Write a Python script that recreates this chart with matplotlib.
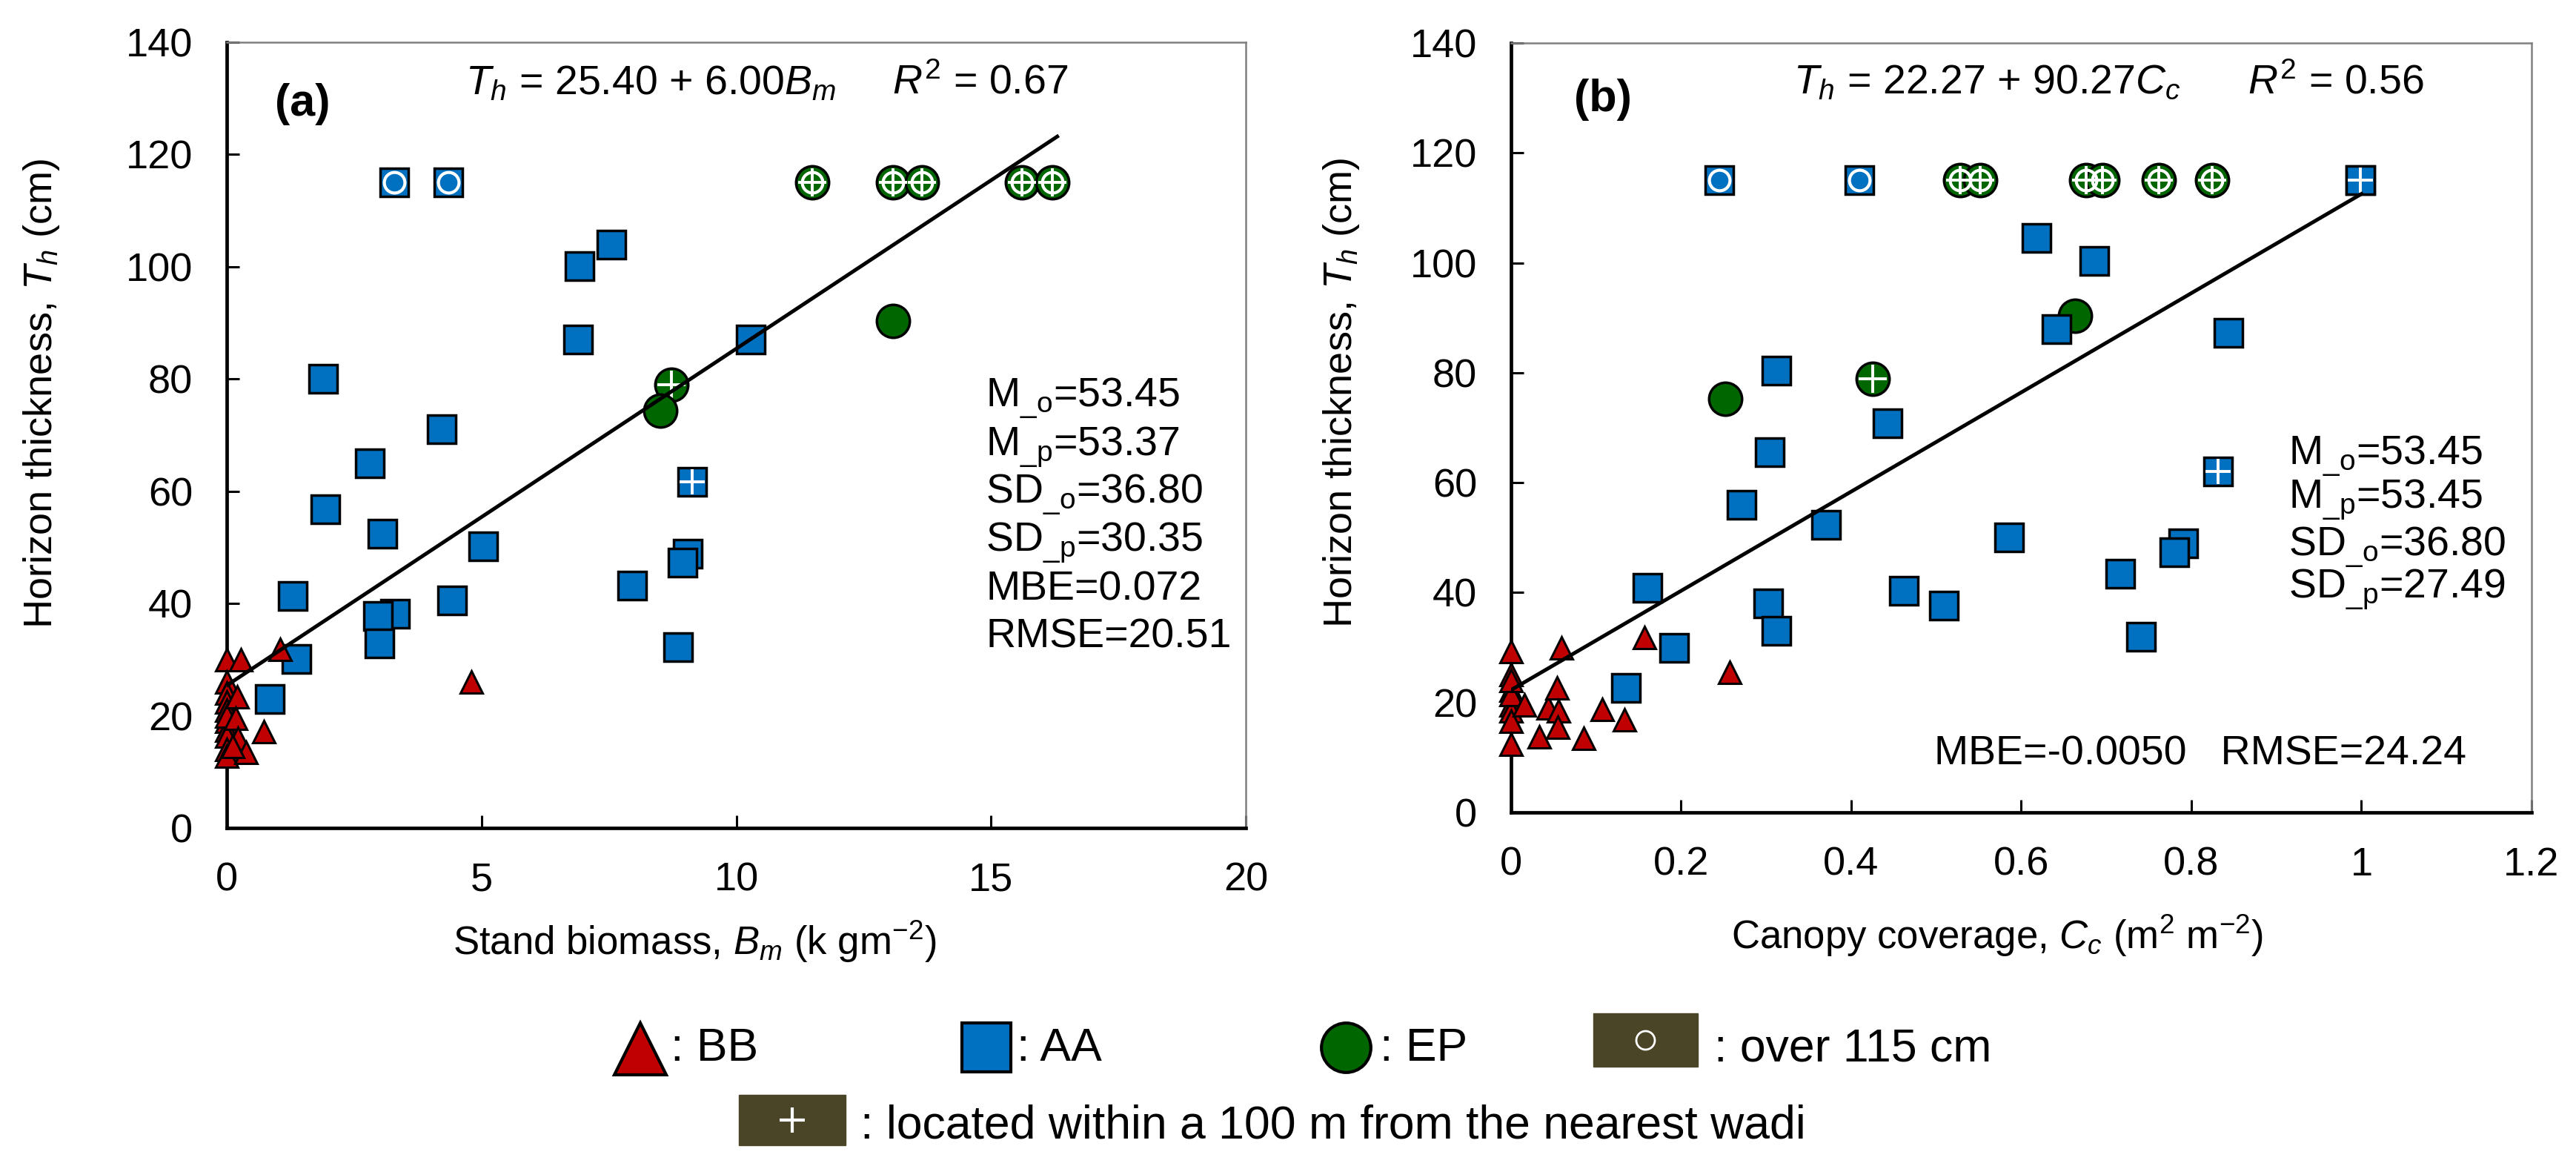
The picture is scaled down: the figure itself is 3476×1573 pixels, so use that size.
import numpy as np
import matplotlib
matplotlib.use('Agg')
import matplotlib.pyplot as plt
from matplotlib.patches import Rectangle

plt.rcParams['font.family'] = ['Liberation Sans', 'DejaVu Sans']
plt.rcParams['mathtext.fontset'] = 'custom'
plt.rcParams['mathtext.rm'] = 'Liberation Sans'
plt.rcParams['mathtext.it'] = 'Liberation Sans:italic'
plt.rcParams['mathtext.bf'] = 'Liberation Sans:bold'

RED = '#C00000'
BLUE = '#0070C0'
GREEN = '#006600'
BOX = '#4B4528'

# ---------------- panel (a): stand biomass B_m vs horizon thickness T_h
bb_a_x = [0, 0, 0, 0, 0, 0, 0, 0, 0, 0, 0, 0.27, 0.2, 0.17, 0.22, 0.38, 0.12, 0.72, 1.04, 4.8]
bb_a_y = [30, 26, 24, 22.5, 21, 19, 17.5, 16.4, 14, 12.8, 20, 30, 23.4, 19.5, 16, 13.5, 14.5, 17.2, 31.8, 26]

aa_a_x = [6.93, 7.55, 6.89, 10.28, 1.89, 4.22, 2.81, 1.93, 3.06, 5.03, 1.3, 4.42,
          3.3, 2.97, 3.0, 1.37, 0.85, 7.96, 9.05, 8.94, 8.86]
aa_a_y = [100.1, 104, 87, 87, 80, 71, 65, 56.8, 52.4, 50.2, 41.4, 40.5,
          38.2, 37.8, 32.9, 30.1, 23, 43.2, 48.9, 47.3, 32.2]
aa_a_over_x = [3.29, 4.35]
aa_a_over_y = [115, 115]
aa_a_wadi_x = [9.14]
aa_a_wadi_y = [61.7]

ep_a_x = [13.08, 8.51]
ep_a_y = [90.3, 74.4]
ep_a_wadi_x = [8.72]
ep_a_wadi_y = [79]
ep_a_over_x = [11.49, 13.08, 13.64, 15.6, 16.2]
ep_a_over_y = [115, 115, 115, 115, 115]

fit_a = (25.40, 6.00)
fit_a_range = [0, 16.3]

# ---------------- panel (b): canopy coverage C_c vs horizon thickness T_h
bb_b_x = [0, 0, 0, 0, 0, 0, 0, 0, 0, 0.016, 0.044, 0.054, 0.056, 0.055, 0.033,
          0.059, 0.107, 0.133, 0.085, 0.157, 0.257]
bb_b_y = [29.3, 25.1, 22.3, 19.5, 18.5, 16.6, 12.4, 21.5, 24, 19.5, 19, 22.7, 18.5, 15.5, 13.7,
          30, 18.7, 16.8, 13.5, 31.8, 25.5]

aa_b_x = [0.618, 0.686, 0.641, 0.844, 0.312, 0.443, 0.304, 0.271, 0.37, 0.16, 0.302,
          0.312, 0.192, 0.135, 0.462, 0.509, 0.586, 0.716, 0.79, 0.78, 0.741]
aa_b_y = [104.5, 100.4, 87.9, 87.3, 80.4, 70.8, 65.5, 56, 52.3, 40.9, 38.1,
          33.1, 29.9, 22.7, 40.3, 37.6, 50, 43.4, 48.9, 47.3, 32]
aa_b_over_x = [0.245, 0.41, 0.999]
aa_b_over_y = [115, 115, 115]
aa_b_wadi_x = [0.831, 0.999]
aa_b_wadi_y = [62, 115]

ep_b_x = [0.252, 0.663]
ep_b_y = [75.3, 90.3]
ep_b_wadi_x = [0.425]
ep_b_wadi_y = [78.9]
ep_b_over_x = [0.528, 0.552, 0.676, 0.695, 0.762, 0.824]
ep_b_over_y = [115, 115, 115, 115, 115, 115]

fit_b = (22.27, 90.27)
fit_b_range = [0, 1.0]

stats_a = [r'M$_{\mathrm{\_o}}$=53.45', r'M$_{\mathrm{\_p}}$=53.37', r'SD$_{\mathrm{\_o}}$=36.80',
           r'SD$_{\mathrm{\_p}}$=30.35', 'MBE=0.072', 'RMSE=20.51']
stats_b = [r'M$_{\mathrm{\_o}}$=53.45', r'M$_{\mathrm{\_p}}$=53.45',
           r'SD$_{\mathrm{\_o}}$=36.80', r'SD$_{\mathrm{\_p}}$=27.49']
stats_b_last = 'MBE=-0.0050   RMSE=24.24'

W, H = 3476, 1573
fig = plt.figure(figsize=(W / 100, H / 100), dpi=100)

ax_a = fig.add_axes([306 / W, 1 - 1117 / H, 1375 / W, 1060 / H])
ax_b = fig.add_axes([2039 / W, 1 - 1096 / H, 1377 / W, 1038 / H])


def group(ax, x, y, kind, over=False, wadi=False):
    if kind == 'BB':
        kw = dict(marker='^', ms=22, mfc=RED, mec='black', mew=2.2)
    elif kind == 'AA':
        kw = dict(marker='s', ms=27, mfc=BLUE, mec='black', mew=2.5)
    else:
        kw = dict(marker='o', ms=32, mfc=GREEN, mec='black', mew=2.5)
    ax.plot(x, y, ls='none', clip_on=False, zorder=3, **kw)
    if over:
        ax.plot(x, y, ls='none', marker='o', ms=20, mfc='none', mec='white',
                mew=3, clip_on=False, zorder=3)
    if wadi:
        ax.plot(x, y, ls='none', marker='+', ms=24 if kind == 'AA' else 27,
                mec='white', mew=2.8, clip_on=False, zorder=3)


def style(ax, xticks, xlabels):
    ax.set_ylim(0, 140)
    ax.set_yticks(np.arange(0, 141, 20))
    ax.set_xticks(xticks)
    ax.set_xticklabels(xlabels)
    ax.set_xlim(xticks[0], xticks[-1])
    ax.tick_params(direction='in', length=12, width=2.2, labelsize=39, pad=33)
    for s in ['left', 'bottom']:
        ax.spines[s].set_linewidth(3.4)
        ax.spines[s].set_color('black')
    for s in ['top', 'right']:
        ax.spines[s].set_linewidth(1.8)
        ax.spines[s].set_color('#808080')


# panel (a)
group(ax_a, ep_a_over_x, ep_a_over_y, 'EP', over=True, wadi=True)
group(ax_a, ep_a_wadi_x, ep_a_wadi_y, 'EP', wadi=True)
group(ax_a, ep_a_x, ep_a_y, 'EP')
group(ax_a, aa_a_x, aa_a_y, 'AA')
group(ax_a, aa_a_over_x, aa_a_over_y, 'AA', over=True)
group(ax_a, aa_a_wadi_x, aa_a_wadi_y, 'AA', wadi=True)
group(ax_a, bb_a_x, bb_a_y, 'BB')
lx = np.array(fit_a_range)
ax_a.plot(lx, fit_a[0] + fit_a[1] * lx, color='black', lw=3.6, zorder=4)
style(ax_a, [0, 5, 10, 15, 20], ['0', '5', '10', '15', '20'])

# panel (b)
group(ax_b, ep_b_over_x, ep_b_over_y, 'EP', over=True, wadi=True)
group(ax_b, ep_b_wadi_x, ep_b_wadi_y, 'EP', wadi=True)
group(ax_b, ep_b_x, ep_b_y, 'EP')
group(ax_b, aa_b_x, aa_b_y, 'AA')
group(ax_b, aa_b_over_x, aa_b_over_y, 'AA', over=True)
group(ax_b, aa_b_wadi_x, aa_b_wadi_y, 'AA', wadi=True)
group(ax_b, bb_b_x, bb_b_y, 'BB')
lx = np.array(fit_b_range)
ax_b.plot(lx, fit_b[0] + fit_b[1] * lx, color='black', lw=3.6, zorder=4)
style(ax_b, [0, 0.2, 0.4, 0.6, 0.8, 1.0, 1.2], ['0', '0.2', '0.4', '0.6', '0.8', '1', '1.2'])

# axis labels
for ax, xl, ylx, yly in [
        (ax_a, r'Stand biomass, $B_m$ (k gm$^{-2}$)', -0.162, 0.553),
        (ax_b, r'Canopy coverage, $C_c$ (m$^2$ m$^{-2}$)', -0.147, 0.546)]:
    ax.set_ylabel(r'Horizon thickness, $T_h$ (cm)', fontsize=39)
    ax.yaxis.set_label_coords(ylx, yly)
    ax.set_xlabel(xl, fontsize=38, ha='left', va='baseline')
ax_a.xaxis.set_label_coords(0.222, (1117 - 1288) / 1060)
ax_b.xaxis.set_label_coords(0.216, (1096 - 1280) / 1038)

# panel letters and equations
ax_a.text(0.047, 0.907, '(a)', transform=ax_a.transAxes, fontsize=44, fontweight='bold')
ax_b.text(0.062, 0.911, '(b)', transform=ax_b.transAxes, fontsize=44, fontweight='bold')
ax_a.text(0.234, 0.934, r'$T_h$ = 25.40 + 6.00$B_m$', transform=ax_a.transAxes, fontsize=40)
ax_a.text(0.653, 0.934, r'$R^2$ = 0.67', transform=ax_a.transAxes, fontsize=40)
ax_b.text(0.277, 0.934, r'$T_h$ = 22.27 + 90.27$C_c$', transform=ax_b.transAxes, fontsize=40)
ax_b.text(0.722, 0.934, r'$R^2$ = 0.56', transform=ax_b.transAxes, fontsize=40)

# statistics
for txt, yb in zip(stats_a, [549, 614, 679, 743, 810, 873]):
    ax_a.text(0.745, (1117 - yb) / 1060, txt, transform=ax_a.transAxes,
              fontsize=40, va='baseline')
for txt, yb in zip(stats_b, [627, 685, 750, 806]):
    ax_b.text(0.762, (1096 - yb) / 1038, txt, transform=ax_b.transAxes,
              fontsize=40, va='baseline')
ax_b.text(0.415, (1096 - 1031) / 1038, stats_b_last, transform=ax_b.transAxes,
          fontsize=40, va='baseline')

# legend drawn in pixel space
lax = fig.add_axes([0, 0, 1, 1], facecolor='none')
lax.set_xlim(0, W)
lax.set_ylim(H, 0)
lax.axis('off')
row1, row2 = 1413, 1511
lax.plot([864], [row1 + 2], marker='^', ms=50, mfc=RED, mec='black', mew=3, ls='none')
lax.text(905, 1431, ': BB', fontsize=45, va='baseline')
lax.plot([1331], [row1], marker='s', ms=47, mfc=BLUE, mec='black', mew=3, ls='none')
lax.text(1372, 1431, ': AA', fontsize=45, va='baseline')
lax.plot([1816], [row1], marker='o', ms=48, mfc=GREEN, mec='black', mew=3, ls='none')
lax.text(1862, 1431, ': EP', fontsize=45, va='baseline')
lax.add_patch(Rectangle((2150, 1367), 141, 72, color=BOX))
lax.plot([2220], [1403], marker='o', ms=18, mfc='none', mec='white', mew=2, ls='none')
lax.text(2313, 1431, ': over 115 cm', fontsize=45, va='baseline')
lax.add_patch(Rectangle((997, 1477), 144, 68, color=BOX))
lax.plot([1069], [row2], marker='+', ms=24, mec='white', mew=3, ls='none')
lax.text(1161, 1536, ': located within a 100 m from the nearest wadi', fontsize=45, va='baseline')

fig.savefig('out.png', dpi=100)
